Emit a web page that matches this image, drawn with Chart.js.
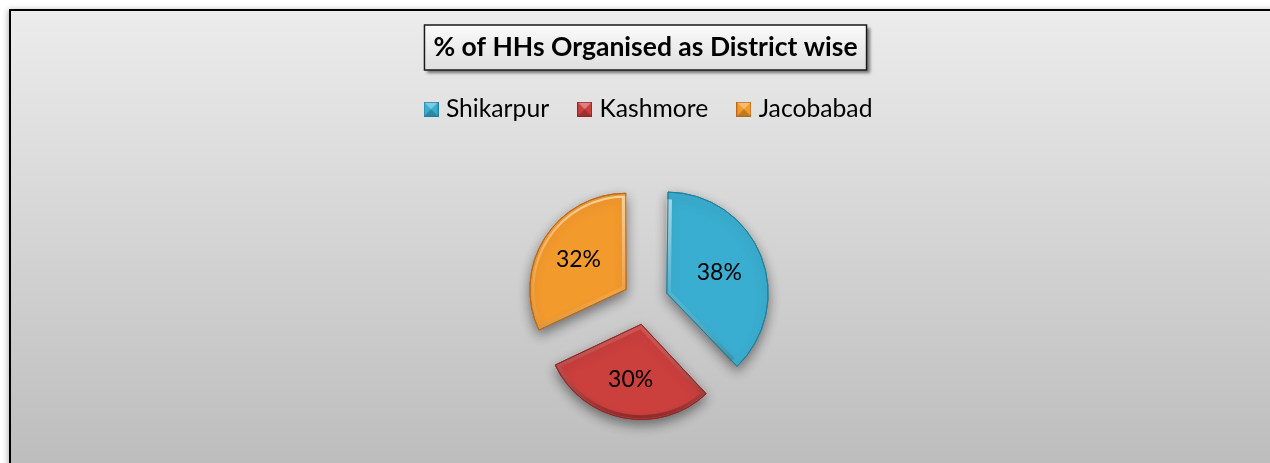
<!DOCTYPE html>
<html>
<head>
<meta charset="utf-8">
<script src="https://cdn.jsdelivr.net/npm/chart.js@4.4.0/dist/chart.umd.min.js"></script>
<style>
    html, body { margin: 0; padding: 0; background: #fff; }
    canvas { display: block; }
</style>
</head>
<body>
<canvas id="pieChart" width="1270" height="463"></canvas>
<script>
// --- Dados do gráfico ---
const districts = ['Shikarpur', 'Kashmore', 'Jacobabad'];
const hhPercent = [38, 30, 32];
const sliceColors = ['#3aaed0', '#cb3f3d', '#f39a2d'];
const sliceBorders = ['#23809b', '#8e2826', '#b8691b'];
const chartTitle = '% of HHs Organised as District wise';

const W = 1270, H = 463;

// Marcadores da legenda com efeito de bisel
function makeMarker(color, dark) {
    const c = document.createElement('canvas');
    c.width = 15; c.height = 15;
    const g = c.getContext('2d');
    g.fillStyle = color;
    g.fillRect(0, 0, 15, 15);
    g.fillStyle = 'rgba(255,255,255,0.35)';
    g.beginPath(); g.moveTo(0, 0); g.lineTo(15, 0); g.lineTo(7.5, 7.5); g.closePath(); g.fill();
    g.fillStyle = 'rgba(0,0,0,0.22)';
    g.beginPath(); g.moveTo(0, 15); g.lineTo(15, 15); g.lineTo(7.5, 7.5); g.closePath(); g.fill();
    g.strokeStyle = dark; g.lineWidth = 1;
    g.strokeRect(0.5, 0.5, 14, 14);
    return c;
}
const markers = sliceColors.map((c, i) => makeMarker(c, sliceBorders[i]));

// Fundo, moldura e caixa do título
const framePlugin = {
    id: 'frame',
    beforeLayout(chart) {
        // espaço extra abaixo da legenda para descer a pizza
        const legend = chart.legend;
        if (legend && !legend._patched) {
            const origFit = legend.fit;
            legend.fit = function () {
                origFit.call(this);
                this.height += 9;
            };
            legend._patched = true;
        }
    },
    afterLayout(chart) {
        chart.legend.left += 5;
        chart.legend.right += 5;
    },
    beforeDraw(chart) {
        const ctx = chart.ctx;
        ctx.save();
        ctx.fillStyle = '#fff';
        ctx.fillRect(0, 0, W, H);
        const grad = ctx.createLinearGradient(0, 10, 0, H);
        grad.addColorStop(0, '#ececec');
        grad.addColorStop(1, '#bdbdbd');
        ctx.shadowColor = 'rgba(0,0,0,0.3)';
        ctx.shadowBlur = 6;
        ctx.shadowOffsetX = -2;
        ctx.fillStyle = grad;
        ctx.fillRect(10, 10, W + 20, H + 20);
        ctx.shadowColor = 'transparent';
        ctx.strokeStyle = '#000';
        ctx.lineWidth = 2;
        ctx.strokeRect(10, 10, W + 20, H + 20);

        // caixa do título
        const t = chart.titleBlock;
        ctx.font = 'bold 26.5px Lato';
        const tw = ctx.measureText(chartTitle).width;
        const cx = (t.left + t.right) / 2;
        const bx = cx - tw / 2 - 9, bw = tw + 18;
        const tg = ctx.createLinearGradient(0, 25, 0, 70);
        tg.addColorStop(0, '#fbfbfb');
        tg.addColorStop(1, '#dedede');
        ctx.shadowColor = 'rgba(0,0,0,0.5)';
        ctx.shadowBlur = 3;
        ctx.shadowOffsetX = 3;
        ctx.shadowOffsetY = 3;
        ctx.fillStyle = tg;
        ctx.fillRect(bx, 25, bw, 45);
        ctx.shadowColor = 'transparent';
        ctx.strokeStyle = '#1a1a1a';
        ctx.lineWidth = 1.5;
        ctx.strokeRect(bx, 25, bw, 45);
        ctx.restore();
    }
};

// Sombra, bisel e rótulos das fatias
const piePlugin = {
    id: 'pieStyle',
    beforeDatasetsDraw(chart) {
        const ctx = chart.ctx;
        ctx.save();
        ctx.shadowColor = 'rgba(0,0,0,0.45)';
        ctx.shadowBlur = 12;
        ctx.shadowOffsetY = 5;
    },
    afterDatasetsDraw(chart) {
        const ctx = chart.ctx;
        ctx.restore();
        const arcs = chart.getDatasetMeta(0).data;
        arcs.forEach((arc, i) => {
            const r = arc.outerRadius;
            const g = ctx.createLinearGradient(0, arc.y - r, 0, arc.y + r);
            g.addColorStop(0, 'rgba(255,255,255,0.55)');
            g.addColorStop(0.5, 'rgba(255,255,255,0.12)');
            g.addColorStop(1, 'rgba(0,0,0,0.3)');
            const saved = arc.options;
            arc.options = Object.assign({}, saved, {
                backgroundColor: 'rgba(0,0,0,0)', borderColor: g, borderWidth: 4, borderAlign: 'inner'
            });
            arc.draw(ctx);
            arc.options = Object.assign({}, saved, {
                backgroundColor: 'rgba(0,0,0,0)', borderWidth: 1, borderAlign: 'center'
            });
            arc.draw(ctx);
            arc.options = saved;
        });
        ctx.save();
        ctx.font = '23px Lato';
        ctx.fillStyle = '#000';
        ctx.textAlign = 'center';
        ctx.textBaseline = 'middle';
        arcs.forEach((arc, i) => {
            const mid = (arc.startAngle + arc.endAngle) / 2;
            const d = arc.options.offset / 4 + 0.6 * arc.outerRadius;
            ctx.fillText(hhPercent[i] + '%', arc.x + Math.cos(mid) * d, arc.y + Math.sin(mid) * d);
        });
        ctx.restore();
    }
};

new Chart(document.getElementById('pieChart'), {
    type: 'pie',
    data: {
        labels: districts,
        datasets: [{
            data: hhPercent,
            backgroundColor: sliceColors,
            borderColor: sliceBorders,
            borderWidth: 1,
            offset: 92,
            radius: 94
        }]
    },
    options: {
        responsive: false,
        animation: false,
        layout: { padding: { left: 21, right: 0, top: 0, bottom: 0 } },
        plugins: {
            title: {
                display: true,
                text: chartTitle,
                color: '#000',
                font: { family: 'Lato', size: 26.5, weight: 'bold' },
                padding: { top: 32, bottom: 0 }
            },
            legend: {
                labels: {
                    usePointStyle: true,
                    boxWidth: 5,
                    boxHeight: 15,
                    padding: 33,
                    color: '#000',
                    font: { family: 'Lato', size: 24.7 },
                    generateLabels: () => districts.map((d, i) => ({
                        text: d, pointStyle: markers[i], fillStyle: sliceColors[i],
                        strokeStyle: sliceBorders[i], lineWidth: 0, hidden: false, index: i
                    }))
                }
            },
            tooltip: { enabled: false }
        }
    },
    plugins: [framePlugin, piePlugin]
});
</script>
</body>
</html>
